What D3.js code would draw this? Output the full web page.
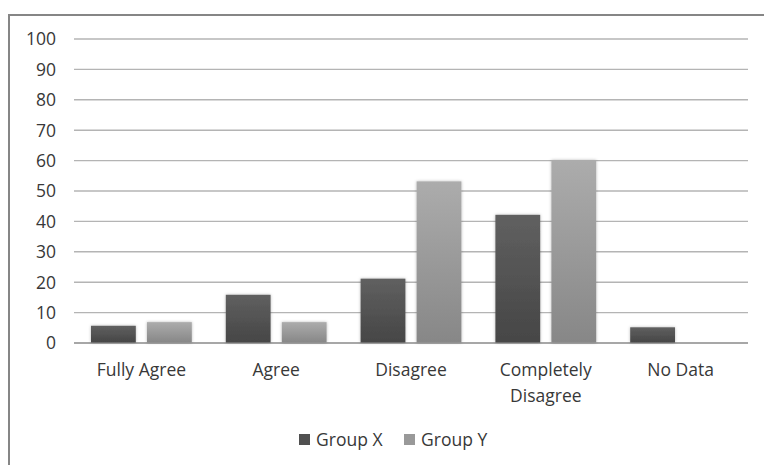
<!DOCTYPE html>
<html>
<head>
<meta charset="utf-8">
<script src="https://cdn.jsdelivr.net/npm/d3@7"></script>
<style>
  html, body { margin: 0; padding: 0; background: #fff; }
  svg { display: block; }
  text { font-family: "Open Sans", "DejaVu Sans", sans-serif; fill: #383838; }
</style>
</head>
<body>
<svg id="chart" width="764" height="465"></svg>
<script>
// Survey responses by group
const categories = ["Fully Agree", "Agree", "Disagree", "Completely Disagree", "No Data"];
const seriesNames = ["Group X", "Group Y"];
const groupX = [5.5, 15.7, 21, 42, 5];
const groupY = [6.7, 6.7, 53, 60, 0];
const yTicks = [0, 10, 20, 30, 40, 50, 60, 70, 80, 90, 100];

const svg = d3.select("#chart");
const W = 764, H = 465;
const plot = { left: 74, right: 748, top: 38.5, bottom: 342.5 };
const fontSize = 17.5;

const defs = svg.append("defs");
const fills = [["gradX", "#606060", "#464646"], ["gradY", "#acacac", "#878787"]];
fills.forEach(([id, top, bottom]) => {
  const g = defs.append("linearGradient").attr("id", id)
    .attr("x1", 0).attr("y1", 0).attr("x2", 0).attr("y2", 1);
  g.append("stop").attr("offset", "0%").attr("stop-color", top);
  g.append("stop").attr("offset", "100%").attr("stop-color", bottom);
});
const shadow = defs.append("filter").attr("id", "barShadow")
  .attr("x", "-20%").attr("y", "-20%").attr("width", "140%").attr("height", "140%");
shadow.append("feDropShadow").attr("dx", 0).attr("dy", 0)
  .attr("stdDeviation", 1.4).attr("flood-color", "#000").attr("flood-opacity", 0.28);

// Outer frame (only top and left edges fall inside the view)
svg.append("rect").attr("x", 9).attr("y", 15)
  .attr("width", W + 20).attr("height", H + 20)
  .attr("fill", "#fff").attr("stroke", "#868686").attr("stroke-width", 2);

const y = d3.scaleLinear().domain([0, 100]).range([plot.bottom, plot.top]);
const x0 = d3.scaleBand().domain(categories).range([plot.left, plot.right]);
const x1 = d3.scaleBand().domain(seriesNames)
  .range([17, x0.bandwidth() - 17]).paddingInner(0.2);
const colour = d3.scaleOrdinal().domain(seriesNames).range(["url(#gradX)", "url(#gradY)"]);
const legendColour = d3.scaleOrdinal().domain(seriesNames).range(["#505050", "#999999"]);

// Gridlines and value labels
const yAxis = d3.axisLeft(y).tickValues(yTicks)
  .tickSize(-(plot.right - plot.left)).tickPadding(18).tickFormat(d3.format("d"));
const ga = svg.append("g").attr("transform", `translate(${plot.left},0)`).call(yAxis);
ga.attr("font-size", fontSize).attr("font-family", null);
ga.select(".domain").remove();
ga.selectAll(".tick line")
  .attr("stroke", d => d === 0 ? "#8a8a8a" : "#b4b4b4")
  .attr("stroke-width", 1.4);
ga.selectAll(".tick text")
  .attr("fill", "#383838")
  .attr("dy", "0.36em");

// Bars
const rows = categories.map((c, i) => ({ cat: c, values: [
  { name: seriesNames[0], value: groupX[i] },
  { name: seriesNames[1], value: groupY[i] }
]}));
const groups = svg.append("g").selectAll("g").data(rows).join("g")
  .attr("transform", d => `translate(${x0(d.cat)},0)`);
groups.selectAll("rect").data(d => d.values.filter(v => v.value > 0)).join("rect")
  .attr("x", d => x1(d.name))
  .attr("width", x1.bandwidth())
  .attr("y", d => y(d.value))
  .attr("height", d => y(0) - y(d.value))
  .attr("fill", d => colour(d.name))
  .attr("filter", "url(#barShadow)");

// Category labels (wrapped onto two lines where needed)
const catLabels = { "Completely Disagree": ["Completely", "Disagree"] };
const xl = svg.append("g");
categories.forEach(c => {
  const lines = catLabels[c] || [c];
  const t = xl.append("text")
    .attr("x", x0(c) + x0.bandwidth() / 2)
    .attr("y", 376)
    .attr("text-anchor", "middle")
    .attr("font-size", fontSize);
  lines.forEach((ln, i) => {
    t.append("tspan").attr("x", x0(c) + x0.bandwidth() / 2)
      .attr("dy", i === 0 ? 0 : 26).text(ln);
  });
});

// Legend
const legend = svg.append("g");
const legendPos = [299, 404];
seriesNames.forEach((s, i) => {
  legend.append("rect").attr("x", legendPos[i]).attr("y", 434)
    .attr("width", 11).attr("height", 11).attr("fill", legendColour(s));
  legend.append("text").attr("x", legendPos[i] + 17).attr("y", 446)
    .attr("font-size", fontSize).text(s);
});
</script>
</body>
</html>
